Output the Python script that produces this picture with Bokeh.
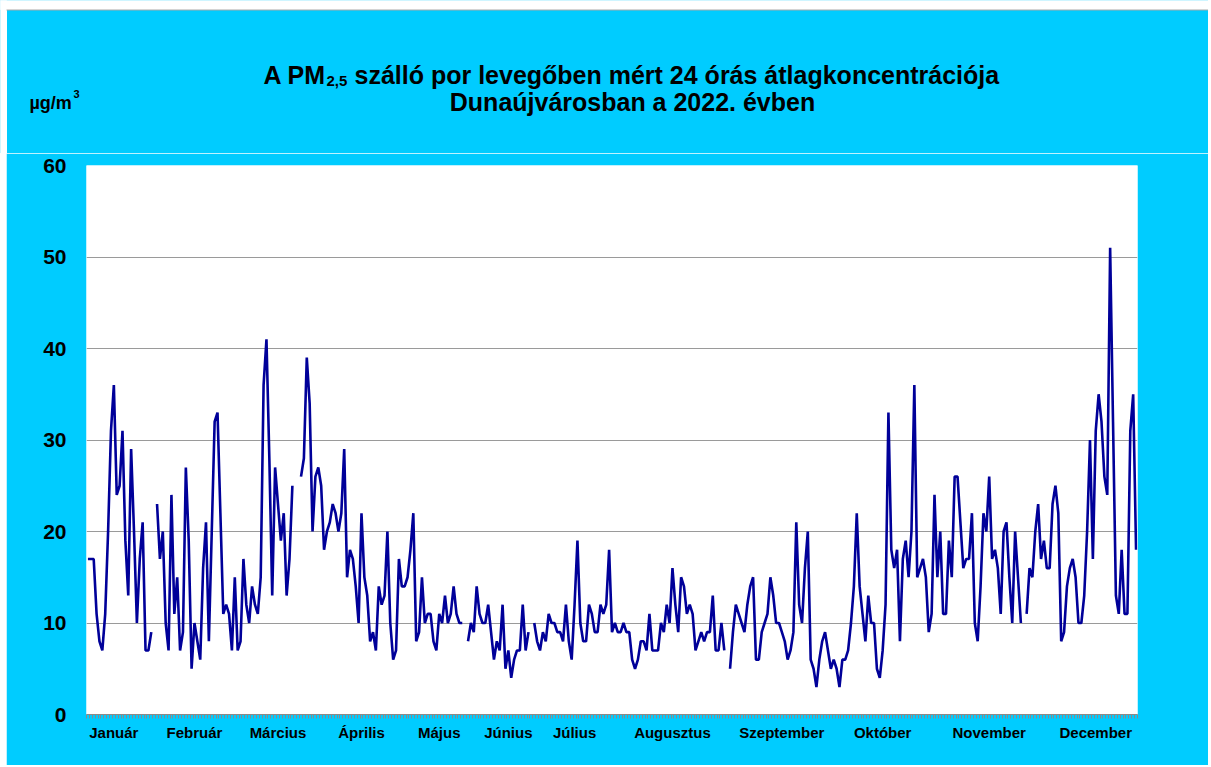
from bokeh.plotting import figure
from bokeh.layouts import row
from bokeh.models import Range1d, FixedTicker, ColumnDataSource, Spacer
from bokeh.core.properties import value
from bokeh.embed import file_html
from bokeh.resources import INLINE

N = None
# daily PM2.5 24h means (µg/m3), 2022, by month; None = missing day
jan = [17, 17, 17, 11, 8, 7, 11, 20, 31, 36, 24, 25, 31, 19, 13, 29, 20, 10, 17, 21, 7, 7, 9, N, 23, 17, 20, 10, 7, 24, 11]
feb = [15, 7, 9, 27, 19, 5, 10, 8, 6, 16, 21, 8, 20, 32, 33, 22, 11, 12, 11, 7, 15, 7, 8, 17, 12, 10, 14, 12]
mar = [11, 15, 36, 41, 28, 13, 27, 23, 19, 22, 13, 17, 25, N, N, 26, 28, 39, 34, 20, 26, 27, 25, 18, 20, 21, 23, 22, 20, 22, 29]
apr = [15, 18, 17, 14, 10, 22, 15, 13, 8, 9, 7, 14, 12, 13, 20, 10, 6, 7, 17, 14, 14, 15, 18, 22, 8, 9, 15, 10, 11, 11]
may = [8, 7, 11, 10, 13, 10, 11, 14, 11, 10, 10, N, 8, 10, 9, 14, 11, 10, 10, 12, 9, 6, 8, 7, 12, 5, 7, 4, 6, 7, 7]
jun = [12, 7, 9, N, 10, 8, 7, 9, 8, 11, 10, 10, 9, 9, 8, 12, 8, 6, 12, 19, 10, 8, 8, 12, 11, 9, 9, 12, 11, 12]
jul = [18, 9, 10, 9, 9, 10, 9, 9, 6, 5, 6, 8, 8, 7, 11, 7, 7, 7, 10, 9, 12, 10, 16, 12, 9, 15, 14, 11, 12, 11, 7]
aug = [8, 9, 8, 9, 9, 13, 7, 7, 10, 7, N, 5, 9, 12, 11, 10, 9, 12, 14, 15, 6, 6, 9, 10, 11, 15, 13, 10, 10, 9, 8]
sep = [6, 7, 9, 21, 12, 10, 16, 20, 6, 5, 3, 6, 8, 9, 7, 5, 6, 5, 3, 6, 6, 7, 10, 14, 22, 14, 11, 8, 13, 10]
okt = [10, 5, 4, 7, 12, 33, 18, 16, 18, 8, 17, 19, 15, 20, 36, 15, 16, 17, 15, 9, 11, 24, 15, 20, 11, 11, 19, 15, 26, 26, 21]
nov = [16, 17, 17, 22, 10, 8, 14, 22, 20, 26, 17, 18, 16, 11, 20, 21, 15, 10, 20, 15, 10, N, 11, 16, 15, 20, 23, 17, 19, 16]
dec = [16, 23, 25, 22, 8, 9, 14, 16, 17, 15, 10, 10, 13, 20, 30, 17, 31, 35, 32, 26, 24, 51, 32, 13, 11, 18, 11, 11, 31, 35, 18]

month_names = ["Január", "Február", "Március", "Április", "Május", "Június",
               "Július", "Augusztus", "Szeptember", "Október", "November", "December"]
month_label_pos = [9, 37, 66, 95, 122, 146, 169, 203, 241, 276, 313, 350]
y_ticks = [0, 10, 20, 30, 40, 50, 60]

values = jan + feb + mar + apr + may + jun + jul + aug + sep + okt + nov + dec
pm = [float("nan") if v is None else float(v) for v in values]
days = list(range(len(pm)))
src = ColumnDataSource(dict(day=days, pm=pm))

CYAN = "#00CCFF"
FONT = "Liberation Sans"
PAD_L, PAD_T, RIGHT = 6, 9, 1208
HDR_H = 153

# ---------- header figure: its frame is the whole canvas, data coords = page pixels ----------
hdr = figure(width=RIGHT, height=HDR_H, x_range=Range1d(0, RIGHT), y_range=Range1d(HDR_H, 0),
             x_axis_type=None, y_axis_type=None, output_backend="svg",
             toolbar_location=None, min_border=0,
             background_fill_color=CYAN, border_fill_color=CYAN)
hdr.outline_line_color = None
hdr.xgrid.visible = False
hdr.ygrid.visible = False
# white page margins (top and left) and the chart-area edge line
hdr.quad(left=[0], right=[RIGHT], top=[0], bottom=[PAD_T], color="white")
hdr.quad(left=[0], right=[PAD_L], top=[0], bottom=[HDR_H], color="white")
hdr.segment(x0=[PAD_L], y0=[PAD_T + 0.5], x1=[RIGHT], y1=[PAD_T + 0.5], line_color="#A8A8A8", line_width=1)


def txt(x, y, s, size, align="left"):
    hdr.text(x=[x], y=[y], text=[s], text_font=value(FONT), text_font_style="bold",
             text_font_size=size, text_color="black", text_align=align,
             text_baseline="alphabetic")


txt(263, 74, "A PM", "25px")
txt(326, 80, "2,5", "15px")
txt(354, 74, "szálló por levegőben mért 24 órás átlagkoncentrációja", "25px")
txt(632, 101, "Dunaújvárosban a 2022. évben", "25px", align="center")
txt(29, 102, "µg/m", "18px")
txt(73, 93, "3", "11px")

# ---------- main chart ----------
FRAME_L, FRAME_T, FRAME_W, FRAME_H = 86, 165, 1051, 549   # page pixels
p = figure(frame_width=FRAME_W, frame_height=FRAME_H,
           x_range=Range1d(-0.5, len(pm) - 0.5), y_range=Range1d(0, 60),
           output_backend="svg", toolbar_location=None,
           min_border_left=FRAME_L - PAD_L, min_border_right=RIGHT - FRAME_L - FRAME_W,
           min_border_top=FRAME_T - HDR_H, min_border_bottom=51,
           background_fill_color="white", border_fill_color=CYAN)
p.outline_line_color = None

p.xgrid.visible = False
p.ygrid.ticker = FixedTicker(ticks=y_ticks[1:])
p.ygrid.grid_line_color = "#9A9A9A"
p.ygrid.grid_line_width = 1

p.yaxis.ticker = FixedTicker(ticks=y_ticks)
p.yaxis.axis_line_color = None
p.yaxis.major_tick_line_color = None
p.yaxis.major_tick_out = 0
p.yaxis.minor_tick_line_color = None
p.yaxis.major_label_text_font = FONT
p.yaxis.major_label_text_font_style = "bold"
p.yaxis.major_label_text_font_size = "21px"
p.yaxis.major_label_text_color = "black"
p.yaxis.major_label_standoff = 20

p.xaxis.ticker = FixedTicker(ticks=month_label_pos,
                             minor_ticks=[d - 0.5 for d in range(len(pm) + 1)])
p.xaxis.major_label_overrides = {pos: name for pos, name in zip(month_label_pos, month_names)}
p.xaxis.major_tick_line_color = None
p.xaxis.major_tick_out = 0
p.xaxis.minor_tick_line_color = "#8A8A8A"
p.xaxis.minor_tick_in = 0
p.xaxis.minor_tick_out = 4
p.xaxis.axis_line_color = "#8A8A8A"
p.xaxis.major_label_text_font = FONT
p.xaxis.major_label_text_font_style = "bold"
p.xaxis.major_label_text_font_size = "15px"
p.xaxis.major_label_text_color = "black"
p.xaxis.major_label_standoff = 5

p.line(x="day", y="pm", source=src, line_color="#000099", line_width=2.6)

main = row(Spacer(width=PAD_L), p, spacing=0)

open("out.html", "w").write(file_html([hdr, main], INLINE))
